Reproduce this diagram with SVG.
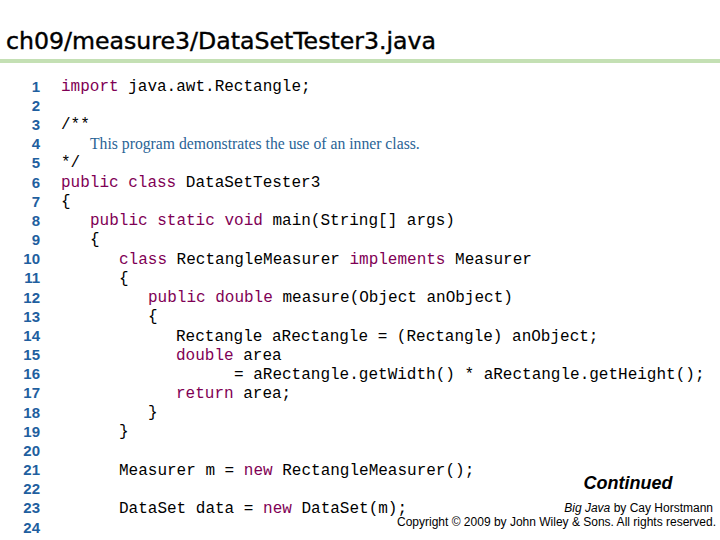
<svg xmlns="http://www.w3.org/2000/svg" width="720" height="540" viewBox="0 0 720 540" xml:space="preserve">
<style>
.n{font-family:"Liberation Sans",Arial,sans-serif;font-weight:bold;font-size:15px;fill:#1f5f9f;text-anchor:end}
.c{font-family:"Liberation Mono","Courier New",monospace;font-size:16px;fill:#000}
.k{fill:#7f0055}
.cm{font-family:"Liberation Serif","Times New Roman",serif;font-size:15.7px;fill:#2a6496}
.f{font-family:"Liberation Sans",Arial,sans-serif;fill:#000}
</style>
<rect width="720" height="540" fill="#fff"/>
<g id="title">
<text x="6" y="49" font-family="DejaVu Sans,sans-serif" font-size="23" fill="#000" stroke="#000" stroke-width="0.4" textLength="430" lengthAdjust="spacingAndGlyphs">ch09/measure3/DataSetTester3.java</text>
<rect x="0" y="59" width="720" height="4" fill="#c4e0b4"/>
</g>
<g id="linenumbers">
<text class="n" x="40" y="92">1</text><text class="n" x="40" y="111">2</text><text class="n" x="40" y="130">3</text><text class="n" x="40" y="149">4</text><text class="n" x="40" y="168">5</text><text class="n" x="40" y="188">6</text><text class="n" x="40" y="207">7</text><text class="n" x="40" y="226">8</text><text class="n" x="40" y="245">9</text><text class="n" x="40" y="264">10</text><text class="n" x="40" y="283">11</text><text class="n" x="40" y="303">12</text><text class="n" x="40" y="322">13</text><text class="n" x="40" y="341">14</text><text class="n" x="40" y="360">15</text><text class="n" x="40" y="379">16</text><text class="n" x="40" y="398">17</text><text class="n" x="40" y="418">18</text><text class="n" x="40" y="437">19</text><text class="n" x="40" y="456">20</text><text class="n" x="40" y="475">21</text><text class="n" x="40" y="494">22</text><text class="n" x="40" y="513">23</text><text class="n" x="40" y="533">24</text>
</g>
<g id="code">
<text class="c" x="61" y="91"><tspan class="k">import</tspan> java.awt.Rectangle;</text>
<text class="c" x="61" y="129">/**</text>
<text class="cm" x="90" y="149">This program demonstrates the use of an inner class.</text>
<text class="c" x="61" y="167">*/</text>
<text class="c" x="61" y="187"><tspan class="k">public class</tspan> DataSetTester3</text>
<text class="c" x="61" y="206">{</text>
<text class="c" x="90" y="225"><tspan class="k">public static void</tspan> main(String[] args)</text>
<text class="c" x="90" y="244">{</text>
<text class="c" x="119" y="264"><tspan class="k">class</tspan> RectangleMeasurer <tspan class="k">implements</tspan> Measurer</text>
<text class="c" x="119" y="283">{</text>
<text class="c" x="148" y="302"><tspan class="k">public double</tspan> measure(Object anObject)</text>
<text class="c" x="148" y="321">{</text>
<text class="c" x="176" y="341">Rectangle aRectangle = (Rectangle) anObject;</text>
<text class="c" x="176" y="360"><tspan class="k">double</tspan> area</text>
<text class="c" x="234" y="379">= aRectangle.getWidth() * aRectangle.getHeight();</text>
<text class="c" x="176" y="398"><tspan class="k">return</tspan> area;</text>
<text class="c" x="148" y="417">}</text>
<text class="c" x="119" y="436">}</text>
<text class="c" x="119" y="475">Measurer m = <tspan class="k">new</tspan> RectangleMeasurer();</text>
<text class="c" x="119" y="513">DataSet data = <tspan class="k">new</tspan> DataSet(m);</text>
</g>
<g id="footer">
<text class="f" x="628" y="489" font-size="18" font-weight="bold" font-style="italic" text-anchor="middle">Continued</text>
<text class="f" x="713" y="512" font-size="12" text-anchor="end"><tspan font-style="italic">Big Java</tspan> by Cay Horstmann</text>
<text class="f" x="716" y="526" font-size="12" text-anchor="end">Copyright © 2009 by John Wiley &amp; Sons.  All rights reserved.</text>
</g>
</svg>
